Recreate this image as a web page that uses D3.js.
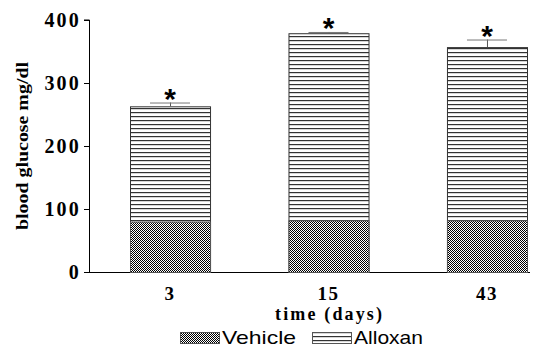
<html>
<head>
<script src="https://d3js.org/d3.v7.min.js"></script>
<style>
    body { margin: 0; background: #fff; }
    svg { display: block; }
    .tick text, .lbl { font-family: 'Liberation Serif', 'Times New Roman', serif; font-weight: bold; }
</style>
</head>
<body>
<svg id='the-chart' width=557 height=347></svg>
<script>

    // data
    var days = ['3', '15', '43'];
    var vehicle = [80, 82, 82];
    var alloxan = [263, 379, 357];
    var alloxanErr = [6, 2, 12];
    var yTicks = [0, 100, 200, 300, 400];

    var svg = d3.select('#the-chart');

    // patterns
    var defs = svg.append('defs');
    var chk = defs.append('pattern').attr('id', 'checker')
        .attr('width', 2).attr('height', 2).attr('patternUnits', 'userSpaceOnUse');
    chk.append('rect').attr('width', 2).attr('height', 2).attr('fill', '#fff');
    chk.append('rect').attr('width', 1).attr('height', 1).attr('fill', '#000');
    chk.append('rect').attr('x', 1).attr('y', 1).attr('width', 1).attr('height', 1).attr('fill', '#000');

    var hz = defs.append('pattern').attr('id', 'hlines')
        .attr('width', 4).attr('height', 4).attr('patternUnits', 'userSpaceOnUse');
    hz.append('rect').attr('width', 4).attr('height', 4).attr('fill', '#fff');
    hz.append('rect').attr('y', 0).attr('width', 4).attr('height', 1.2).attr('fill', '#333');

    var y = d3.scaleLinear().domain([0, 400]).range([272, 20]);
    var x = d3.scaleBand().domain(days).range([130, 527]).paddingInner(0.495).paddingOuter(0);

    // y axis
    var yAxis = svg.append('g')
        .attr('transform', 'translate(90,0)')
        .call(d3.axisLeft(y).tickValues(yTicks).tickSize(6).tickPadding(3));
    yAxis.select('.domain').attr('d', 'M-0.5,' + y(0) + 'V' + y(400) + 'H-6');
    yAxis.selectAll('.tick text').attr('font-size', 20).attr('fill', '#000').attr('letter-spacing', 2.2)
        .attr('dy', '0.34em');

    // x axis line
    svg.append('line')
        .attr('x1', 90).attr('x2', 530)
        .attr('y1', y(0) + 0.5).attr('y2', y(0) + 0.5)
        .attr('stroke', '#000');

    // x labels
    svg.selectAll('.xl').data(days).enter().append('text')
        .attr('class', 'lbl')
        .attr('x', function(d) { return x(d) + x.bandwidth() / 2; })
        .attr('y', 300)
        .attr('text-anchor', 'middle')
        .attr('font-size', 19)
        .attr('letter-spacing', 1.5)
        .text(function(d) { return d; });

    svg.append('text').attr('class', 'lbl')
        .attr('x', 275).attr('y', 320)
        .attr('font-size', 18)
        .attr('textLength', 107)
        .attr('lengthAdjust', 'spacing')
        .text('time (days)');

    svg.append('text').attr('class', 'lbl')
        .attr('transform', 'translate(28,146) rotate(-90)')
        .attr('x', -84)
        .attr('font-size', 16)
        .attr('textLength', 168)
        .attr('lengthAdjust', 'spacingAndGlyphs')
        .text('blood glucose mg/dl');

    // alloxan bars (behind)
    var g = svg.append('g');
    g.selectAll('.ab').data(alloxan).enter().append('rect')
        .attr('x', function(d, i) { return x(days[i]) + 0.5; })
        .attr('y', function(d) { return y(d) + 0.5; })
        .attr('width', x.bandwidth())
        .attr('height', function(d) { return y(0) - y(d); })
        .attr('fill', 'url(#hlines)')
        .attr('stroke', '#333');

    // error bars
    g.selectAll('.ev').data(alloxan).enter().append('line')
        .attr('x1', function(d, i) { return x(days[i]) + x.bandwidth() / 2 + 0.5; })
        .attr('x2', function(d, i) { return x(days[i]) + x.bandwidth() / 2 + 0.5; })
        .attr('y1', function(d) { return y(d); })
        .attr('y2', function(d, i) { return y(d + alloxanErr[i]); })
        .attr('stroke', '#555');
    g.selectAll('.ec').data(alloxan).enter().append('line')
        .attr('x1', function(d, i) { return x(days[i]) + x.bandwidth() / 4; })
        .attr('x2', function(d, i) { return x(days[i]) + x.bandwidth() * 3 / 4; })
        .attr('y1', function(d, i) { return y(d + alloxanErr[i]) + 0.5; })
        .attr('y2', function(d, i) { return y(d + alloxanErr[i]) + 0.5; })
        .attr('stroke', '#777');

    // asterisks
    g.selectAll('.star').data(alloxan).enter().append('text')
        .attr('x', function(d, i) { return x(days[i]) + x.bandwidth() / 2; })
        .attr('y', function(d, i) { return y(d + alloxanErr[i]) + 6; })
        .attr('text-anchor', 'middle')
        .attr('font-family', 'Liberation Sans, Arial, sans-serif')
        .attr('font-weight', 'bold')
        .attr('font-size', 30)
        .text('*');

    // vehicle bars (front)
    g.selectAll('.vb').data(vehicle).enter().append('rect')
        .attr('x', function(d, i) { return x(days[i]) + 0.5; })
        .attr('y', function(d) { return y(d) + 0.5; })
        .attr('width', x.bandwidth())
        .attr('height', function(d) { return y(0) - y(d); })
        .attr('fill', 'url(#checker)')
        .attr('stroke', '#555');

    // legend
    var leg = [['Vehicle', 'url(#checker)', 180, 74], ['Alloxan', 'url(#hlines)', 312, 69]];
    var lg = svg.selectAll('.leg').data(leg).enter().append('g');
    lg.append('rect')
        .attr('x', function(d) { return d[2] + 0.5; })
        .attr('y', 332.5)
        .attr('width', 39).attr('height', 11)
        .attr('fill', function(d) { return d[1]; })
        .attr('stroke', '#555');
    lg.append('text')
        .attr('x', function(d) { return d[2] + 42; })
        .attr('y', 344)
        .attr('font-family', 'Liberation Sans, Arial, sans-serif')
        .attr('font-size', 19)
        .attr('textLength', function(d) { return d[3]; })
        .attr('lengthAdjust', 'spacingAndGlyphs')
        .text(function(d) { return d[0]; });

</script>
</body>
</html>
